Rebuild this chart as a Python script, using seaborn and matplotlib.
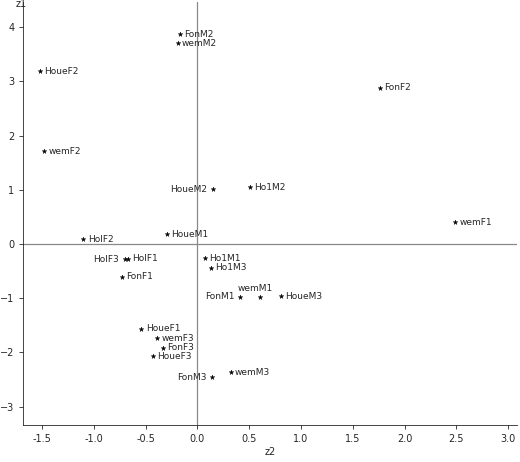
import numpy as np
import matplotlib
matplotlib.use("Agg")
import matplotlib.pyplot as plt
import seaborn as sns

labels = ["FonM2", "wemM2", "HoueF2", "FonF2", "wemF2", "HoueM2", "Ho1M2", "wemF1",
          "HolF2", "HoueM1", "HolF3", "HolF1", "FonF1", "Ho1M1", "Ho1M3", "FonM1",
          "wemM1", "HoueM3", "HoueF1", "wemF3", "FonF3", "HoueF3", "FonM3", "wemM3"]
z2 = [-0.17, -0.19, -1.52, 1.76, -1.48, 0.15, 0.51, 2.49,
      -1.10, -0.29, -0.70, -0.67, -0.73, 0.07, 0.13, 0.41,
      0.60, 0.81, -0.54, -0.39, -0.33, -0.43, 0.14, 0.32]
z1 = [3.87, 3.70, 3.19, 2.88, 1.71, 1.01, 1.05, 0.40,
      0.09, 0.18, -0.28, -0.27, -0.60, -0.26, -0.44, -0.97,
      -0.97, -0.96, -1.56, -1.74, -1.91, -2.07, -2.46, -2.37]
# label placement: r = right, l = left, u = above
side = ["r", "r", "r", "r", "r", "l", "r", "r",
        "r", "r", "l", "r", "r", "r", "r", "l",
        "u", "r", "r", "r", "r", "r", "l", "r"]

sns.set_style("ticks")
fig = plt.figure(figsize=(5.2, 4.62), dpi=100)
ax = fig.add_axes([0.045, 0.08, 0.95, 0.915])
ax.axhline(0, color="#888888", lw=0.9, zorder=0)
ax.axvline(0, color="#888888", lw=0.9, zorder=0)
sns.scatterplot(x=z2, y=z1, marker="*", s=12, color="black", edgecolor="black", linewidth=0.3, ax=ax)

for lab, x, y, s in zip(labels, z2, z1, side):
    if s == "r":
        ax.annotate(lab, (x, y), xytext=(3, 0), textcoords="offset points", ha="left", va="center", fontsize=6.5)
    elif s == "l":
        ax.annotate(lab, (x, y), xytext=(-4, 0), textcoords="offset points", ha="right", va="center", fontsize=6.5)
    else:
        ax.annotate(lab, (x, y), xytext=(-3, 6), textcoords="offset points", ha="center", va="center", fontsize=6.5)

ax.set_xlim(-1.68, 3.09)
ax.set_ylim(-3.34, 4.46)
ax.set_xticks(np.arange(-1.5, 3.01, 0.5))
ax.set_yticks(np.arange(-3, 5, 1))
ax.set_xticklabels([f"{v:.1f}" for v in np.arange(-1.5, 3.01, 0.5)])
ax.tick_params(labelsize=7, length=3, width=0.6)
sns.despine(ax=ax)
for sp in ax.spines.values():
    sp.set_linewidth(0.6)
ax.set_xlabel("z2", fontsize=7, labelpad=2)
ax.set_ylabel("z1", fontsize=7, rotation=0)
ax.yaxis.set_label_coords(-0.005, 0.985)
fig.savefig("out.png", dpi=100)
